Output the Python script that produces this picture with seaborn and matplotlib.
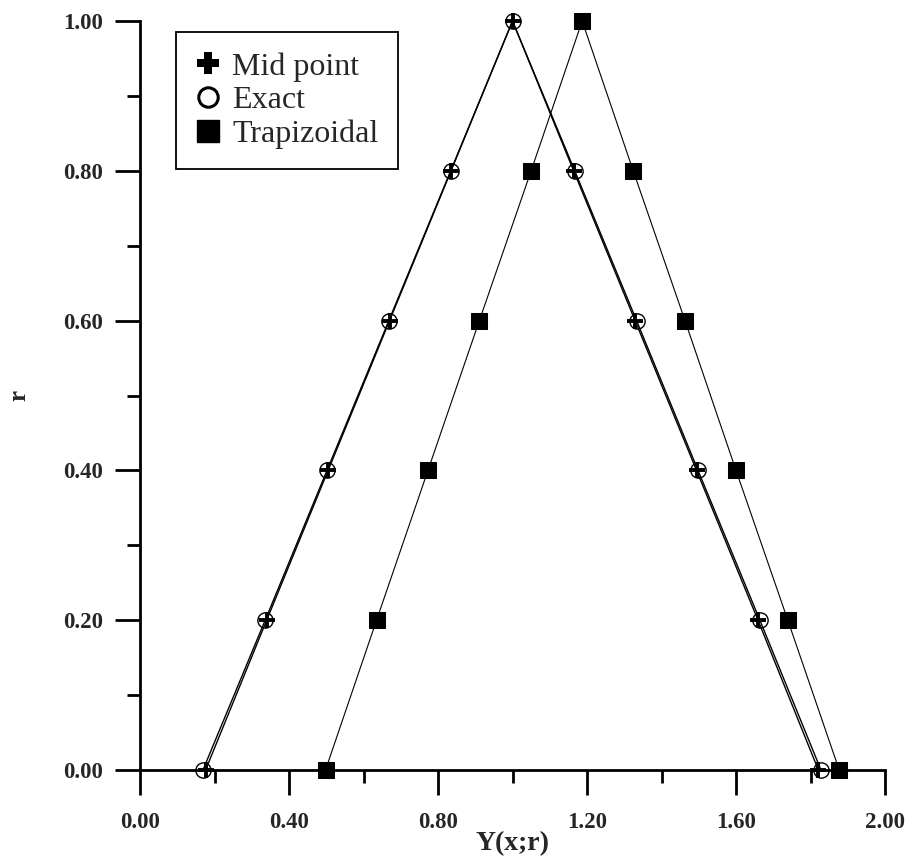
import matplotlib
matplotlib.use("Agg")
import matplotlib.pyplot as plt
from matplotlib.lines import Line2D
from matplotlib.ticker import MultipleLocator, FormatStrFormatter
import seaborn as sns
import pandas as pd

# membership levels
r_levels = [0.0, 0.2, 0.4, 0.6, 0.8, 1.0, 0.8, 0.6, 0.4, 0.2, 0.0]

# solution values along the fuzzy triangle (lower branch, then upper branch)
y_midpoint = [0.176, 0.340, 0.505, 0.670, 0.835, 1.000, 1.164, 1.329, 1.494, 1.659, 1.821]
y_exact = [0.169, 0.336, 0.502, 0.668, 0.834, 1.000, 1.167, 1.333, 1.498, 1.664, 1.828]
y_trapezoidal = [0.498, 0.635, 0.773, 0.911, 1.050, 1.187, 1.324, 1.463, 1.600, 1.739, 1.877]

x_ticks = [0.0, 0.4, 0.8, 1.2, 1.6, 2.0]
y_ticks = [0.0, 0.2, 0.4, 0.6, 0.8, 1.0]

sns.set_theme(style="ticks")
plt.rcParams["font.family"] = ["Liberation Serif", "DejaVu Serif"]

fig = plt.figure(figsize=(9.08, 8.61), dpi=100)
ax = fig.add_axes([0.1542, 0.1057, 0.8205, 0.8699])

df_ex = pd.DataFrame({"x": y_exact, "r": r_levels})
df_mid = pd.DataFrame({"x": y_midpoint, "r": r_levels})
df_tr = pd.DataFrame({"x": y_trapezoidal, "r": r_levels})

sns.lineplot(data=df_ex, x="x", y="r", sort=False, estimator=None, ax=ax,
             color="black", linewidth=1.0, marker="o", markersize=11,
             markerfacecolor="none", markeredgecolor="black", markeredgewidth=1.0,
             clip_on=False, zorder=3)
sns.lineplot(data=df_mid, x="x", y="r", sort=False, estimator=None, ax=ax,
             color="black", linewidth=1.0, marker="+", markersize=11,
             markeredgewidth=2.8, markeredgecolor="black",
             clip_on=False, zorder=4)
sns.lineplot(data=df_tr, x="x", y="r", sort=False, estimator=None, ax=ax,
             color="black", linewidth=0.8, marker="s", markersize=11.5,
             markerfacecolor="black", markeredgecolor="black",
             clip_on=False, zorder=3)

ax.set_xlim(0, 2.0)
ax.set_ylim(0, 1.0)
ax.set_xticks(x_ticks)
ax.set_yticks(y_ticks)
ax.xaxis.set_minor_locator(MultipleLocator(0.2))
ax.yaxis.set_minor_locator(MultipleLocator(0.1))
ax.xaxis.set_major_formatter(FormatStrFormatter("%.2f"))
ax.yaxis.set_major_formatter(FormatStrFormatter("%.2f"))

for side in ["top", "right"]:
    ax.spines[side].set_visible(False)
for side in ["left", "bottom"]:
    ax.spines[side].set_linewidth(2.0)
    ax.spines[side].set_color("black")

ax.tick_params(which="major", direction="out", length=18, width=2.0,
               color="black", labelsize=16.5)
ax.tick_params(axis="y", which="major", pad=8.5)
ax.tick_params(axis="x", which="major", pad=12)
ax.tick_params(which="minor", direction="out", length=9.5, width=2.0, color="black")
for lab in ax.get_xticklabels() + ax.get_yticklabels():
    lab.set_fontweight("bold")

ax.set_xlabel("Y(x;r)", fontsize=20, fontweight="bold", labelpad=-1)
ax.set_ylabel("r", fontsize=18, fontweight="bold", labelpad=24)

handles = [
    Line2D([], [], linestyle="none", marker="P", markersize=16,
           markerfacecolor="black", markeredgecolor="black", markeredgewidth=0),
    Line2D([], [], linestyle="none", marker="o", markersize=14,
           markerfacecolor="none", markeredgecolor="black", markeredgewidth=2.2),
    Line2D([], [], linestyle="none", marker="s", markersize=16,
           markerfacecolor="black", markeredgecolor="black"),
]
leg = ax.legend(handles, ["Mid point", "Exact", "Trapizoidal"],
                loc="upper left", bbox_to_anchor=(0.048, 0.985),
                fontsize=23, frameon=True, fancybox=False, framealpha=1,
                edgecolor="black", handlelength=0.8, handletextpad=0.35,
                labelspacing=0.14, borderpad=0.62, borderaxespad=0)
leg.get_frame().set_linewidth(1.3)

fig.savefig("out.png", dpi=100)
